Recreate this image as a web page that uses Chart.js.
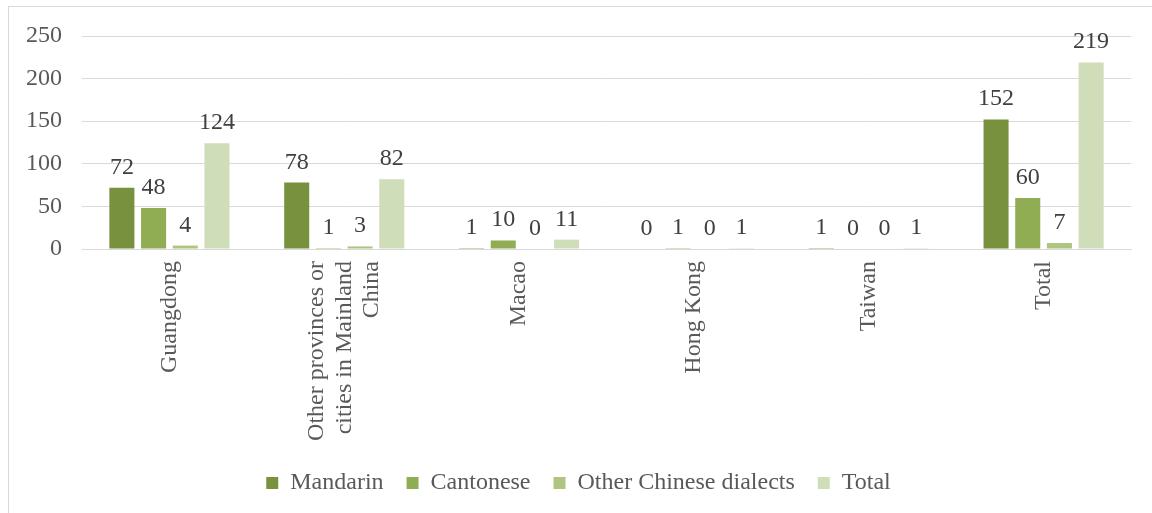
<!DOCTYPE html>
<html>
<head>
<meta charset="utf-8">
<script src="https://cdn.jsdelivr.net/npm/chart.js@4/dist/chart.umd.min.js"></script>
<style>
  html, body { margin: 0; padding: 0; background: #fff; }
  .frame {
    position: absolute; left: 8px; top: 6px;
    width: 1143px; height: 506px;
    border-left: 1px solid #d9d9d9; border-top: 1px solid #d9d9d9;
  }
</style>
</head>
<body>
<div class="frame"><canvas id="chart"></canvas></div>
<script>
// categories (x axis)
const regions = [
  'Guangdong',
  ['Other provinces or', 'cities in Mainland', 'China'],
  'Macao',
  'Hong Kong',
  'Taiwan',
  'Total'
];

// series values
const mandarin  = [72, 78, 1, 0, 1, 152];
const cantonese = [48, 1, 10, 1, 0, 60];
const otherDialects = [4, 3, 0, 0, 0, 7];
const totals    = [124, 82, 11, 1, 1, 219];

const yTicks = [0, 50, 100, 150, 200, 250];

const serif = '"Liberation Serif", "Times New Roman", serif';

// dibuja el valor encima de cada barra
const valueLabels = {
  id: 'valueLabels',
  afterDatasetsDraw(chart) {
    const ctx = chart.ctx;
    ctx.save();
    ctx.font = '24px ' + serif;
    ctx.fillStyle = '#404040';
    ctx.textAlign = 'center';
    ctx.textBaseline = 'alphabetic';
    chart.data.datasets.forEach((ds, i) => {
      chart.getDatasetMeta(i).data.forEach((bar, j) => {
        ctx.fillText(String(ds.data[j]), bar.x, bar.y - 14);
      });
    });
    ctx.restore();
  }
};

// centrar las etiquetas de varias líneas sobre su marca
const centerMultiline = {
  id: 'centerMultiline',
  beforeDraw(chart) {
    const items = chart.scales.x.getLabelItems();
    items.forEach(item => {
      if (Array.isArray(item.label) && item.label.length > 1) {
        const lh = item.font.lineHeight;
        item.options.translation[0] -= (item.label.length - 1) * lh / 2;
      }
    });
  }
};

const ctx = document.getElementById('chart').getContext('2d');
new Chart(ctx, {
  type: 'bar',
  data: {
    labels: regions,
    datasets: [
      { label: 'Mandarin', data: mandarin, backgroundColor: '#78913f' },
      { label: 'Cantonese', data: cantonese, backgroundColor: '#91ad54' },
      { label: 'Other Chinese dialects', data: otherDialects, backgroundColor: '#afc57f' },
      { label: 'Total', data: totals, backgroundColor: '#cfddb9' }
    ]
  },
  options: {
    responsive: true,
    maintainAspectRatio: false,
    animation: false,
    datasets: {
      bar: { categoryPercentage: 0.725, barPercentage: 0.79 }
    },
    layout: { padding: { left: 17, right: 21, top: 29, bottom: 8 } },
    scales: {
      x: {
        grid: { display: false, drawTicks: false },
        border: { display: true, color: '#d9d9d9' },
        afterFit: (scale) => {
          scale.height = 199;
          scale.paddingLeft = 0;
          scale.paddingRight = 0;
        },
        ticks: {
          minRotation: 90, maxRotation: 90,
          padding: 12,
          color: '#595959',
          font: { family: serif, size: 24, lineHeight: 1.15 }
        }
      },
      y: {
        min: 0, max: 250,
        afterBuildTicks: (scale) => { scale.ticks = yTicks.map(v => ({ value: v })); },
        afterFit: (scale) => {
          scale.width -= 20;
          scale.paddingTop = 0;
          scale.paddingBottom = 0;
        },
        grid: { color: '#d9d9d9', drawTicks: false },
        border: { display: false },
        ticks: {
          padding: 20,
          color: '#595959',
          font: { family: serif, size: 24 }
        }
      }
    },
    plugins: {
      legend: {
        position: 'bottom',
        labels: {
          boxWidth: 12, boxHeight: 12,
          padding: 23,
          color: '#595959',
          font: { family: serif, size: 24 }
        }
      },
      tooltip: { enabled: false }
    }
  },
  plugins: [valueLabels, centerMultiline]
});
</script>
</body>
</html>
